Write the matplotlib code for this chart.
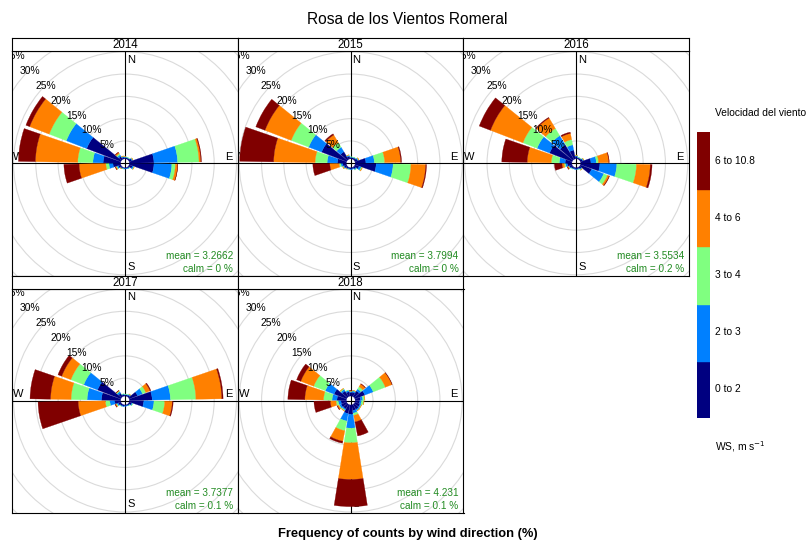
import matplotlib.pyplot as plt
from matplotlib.patches import Wedge, Circle
import numpy as np

plt.rcParams['font.family'] = ['Liberation Sans', 'DejaVu Sans']

# ---- data (percent of counts per direction and wind-speed bin) ----
years = ['2014', '2015', '2016', '2017', '2018']
directions = [0, 20, 40, 60, 80, 100, 120, 140, 160, 180, 200, 220, 240, 260, 280, 300, 320, 340]
ws_labels = ['0 to 2', '2 to 3', '3 to 4', '4 to 6', '6 to 10.8']
ws_colors = ['#000080', '#0080FF', '#80FF80', '#FF8000', '#800000']
mean_ws = [3.2662, 3.7994, 3.5534, 3.7377, 4.231]
calm_pct = [0, 0, 0.2, 0.1, 0.1]

freq_2014 = [[0.3, 0.1, 0.05, 0.05, 0], [0.3, 0.1, 0.05, 0, 0], [0.3, 0.1, 0.05, 0, 0],
             [0.6, 0.2, 0.1, 0.05, 0], [5.5, 5.3, 4.8, 0.4, 0.15], [5.5, 4.0, 0.8, 0.5, 0.05],
             [0.8, 0.3, 0.1, 0.05, 0], [0.3, 0.1, 0.05, 0, 0], [0.2, 0.1, 0, 0, 0],
             [0.2, 0.1, 0, 0, 0], [0.2, 0.1, 0.05, 0, 0], [0.3, 0.1, 0.05, 0.05, 0],
             [0.6, 0.3, 0.2, 0.2, 0.05], [1.7, 0.9, 0.7, 6.0, 3.4], [3.9, 2.3, 3.4, 9.5, 3.8],
             [8.2, 4.9, 4.1, 4.7, 0.9], [0.8, 0.4, 0.3, 0.3, 0.1], [0.4, 0.15, 0.1, 0.05, 0]]
freq_2015 = [[0.3, 0.1, 0.05, 0, 0], [0.3, 0.1, 0.05, 0, 0], [0.4, 0.1, 0.05, 0, 0],
             [0.6, 0.2, 0.1, 0.1, 0], [2.4, 1.9, 2.3, 3.6, 0.2], [4.7, 3.8, 4.0, 3.3, 0.2],
             [1.0, 0.5, 0.2, 0.1, 0], [0.5, 0.2, 0.1, 0, 0], [0.3, 0.1, 0, 0, 0],
             [0.3, 0.1, 0, 0, 0], [0.3, 0.1, 0.05, 0, 0], [0.4, 0.1, 0.05, 0.05, 0],
             [0.6, 0.2, 0.1, 0.1, 0], [0.8, 0.4, 0.4, 2.1, 3.8], [2.0, 2.3, 2.7, 9.3, 7.6],
             [6.0, 3.1, 4.2, 6.3, 2.2], [2.0, 1.2, 1.2, 2.0, 0.3], [0.6, 0.2, 0.1, 0.05, 0]]
freq_2016 = [[0.5, 0.2, 0.1, 0.05, 0], [0.3, 0.1, 0.05, 0, 0], [0.3, 0.1, 0.05, 0, 0],
             [0.5, 0.2, 0.1, 0.05, 0], [2.3, 1.2, 0.5, 2.3, 0.1], [4.3, 3.8, 4.4, 3.1, 0.4],
             [2.7, 2.9, 0.9, 0.4, 0.1], [0.5, 0.2, 0.1, 0.05, 0], [0.3, 0.1, 0.05, 0, 0],
             [0.3, 0.1, 0, 0, 0], [0.3, 0.1, 0, 0, 0], [0.4, 0.1, 0.05, 0, 0],
             [0.6, 0.2, 0.1, 0.2, 0.1], [1.0, 0.4, 0.3, 0.5, 1.7], [1.5, 1.3, 1.8, 5.4, 5.7],
             [5.4, 3.0, 3.4, 7.8, 2.7], [3.8, 2.4, 1.9, 2.7, 0.2], [2.0, 1.2, 1.2, 1.4, 0.3]]
freq_2017 = [[0.3, 0.1, 0.05, 0, 0], [0.3, 0.1, 0.05, 0, 0], [0.4, 0.2, 0.1, 0.05, 0],
             [2.0, 1.2, 0.8, 1.0, 0.2], [5.1, 4.1, 5.7, 5.8, 0.3], [3.2, 2.3, 2.4, 1.7, 0.2],
             [0.6, 0.2, 0.1, 0, 0], [0.3, 0.1, 0.05, 0, 0], [0.2, 0.1, 0, 0, 0],
             [0.2, 0.1, 0, 0, 0], [0.3, 0.1, 0, 0, 0], [0.4, 0.1, 0.05, 0, 0],
             [0.6, 0.3, 0.2, 0.2, 0.1], [1.3, 1.1, 1.0, 6.1, 9.0], [4.3, 3.2, 3.6, 4.6, 4.6],
             [5.6, 3.3, 3.1, 2.2, 0.9], [0.9, 0.4, 0.2, 0.1, 0.05], [0.4, 0.1, 0.05, 0, 0]]
freq_2018 = [[0.8, 0.2, 0.1, 0.05, 0.1], [0.9, 0.3, 0.1, 0.05, 0], [1.5, 0.5, 0.6, 0.7, 0.1],
             [2.4, 2.0, 2.9, 1.6, 0.05], [1.2, 0.5, 0.4, 0.1, 0], [1.0, 0.4, 0.5, 0.1, 0],
             [1.2, 0.3, 0.1, 0.05, 0], [1.3, 0.3, 0.1, 0.05, 0], [1.3, 0.6, 0.5, 1.5, 3.2],
             [2.1, 3.1, 3.3, 8.2, 6.1], [2.0, 1.7, 2.2, 2.4, 0.45], [1.2, 0.3, 0.2, 0.1, 0],
             [1.3, 0.4, 0.2, 0.3, 0.1], [1.2, 0.6, 0.5, 1.3, 3.65], [2.1, 1.1, 1.9, 4.2, 3.8],
             [3.0, 2.1, 2.8, 3.1, 1.0], [1.5, 0.4, 0.2, 0.1, 0], [1.0, 0.3, 0.1, 0, 0]]
freqs = [freq_2014, freq_2015, freq_2016, freq_2017, freq_2018]

# ---- layout (pixels) ----
W, H = 811, 543
cols = [(12, 238), (238, 463.5), (463.5, 689)]
rows = [(37.5, 50.5, 276), (276, 288.5, 512.5)]  # strip top, plot top, plot bottom
px_per_pct = 4.46
hole = 1.0
angle = 20
seg = 0.9

fig = plt.figure(figsize=(W / 100, H / 100), dpi=100)

for i, year in enumerate(years):
    x0, x1 = cols[i % 3]
    ys, yt, yb = rows[i // 3]
    ax = fig.add_axes([x0 / W, 1 - yb / H, (x1 - x0) / W, (yb - yt) / H])
    hw = (x1 - x0) / 2 / px_per_pct
    hh = (yb - yt) / 2 / px_per_pct
    ax.set_xlim(-hw, hw)
    ax.set_ylim(-hh, hh)
    ax.set_xticks([])
    ax.set_yticks([])
    for sp in ax.spines.values():
        sp.set_linewidth(0.8)

    for k in range(1, 8):
        ax.add_patch(Circle((0, 0), 5 * k, fill=False, ec='#DADADA', lw=0.8, zorder=1))
    ax.axhline(0, color='black', lw=0.8, zorder=2)
    ax.axvline(0, color='black', lw=0.8, zorder=2)

    ax.text(1.3, 23.2, 'N', ha='center', va='center', fontsize=8, zorder=2.5)
    ax.text(1.3, -23.3, 'S', ha='center', va='center', fontsize=8, zorder=2.5)
    ax.text(23.2, 1.5, 'E', ha='center', va='center', fontsize=8, zorder=2.5)
    ax.text(-24.0, 1.5, 'W', ha='center', va='center', fontsize=8, zorder=2.5)

    for d, bins in zip(directions, freqs[i]):
        cum = hole
        t1 = 90 - d - angle / 2 * seg
        t2 = 90 - d + angle / 2 * seg
        for v, c in zip(bins, ws_colors):
            if v > 0:
                ax.add_patch(Wedge((0, 0), cum + v, t1, t2, width=v, fc=c, ec=c, lw=0.2, zorder=3))
            cum += v

    for k in range(1, 8):
        ax.text(-(3.45 * k + 0.6), 3.33 * k + 0.7, f'{5 * k}%', ha='center', va='center',
                fontsize=7.4, zorder=4, clip_on=True)

    ax.text(1 - 5 / (x1 - x0), 20 / (yb - yt), f'mean = {mean_ws[i]:g}', transform=ax.transAxes,
            ha='right', va='center', fontsize=7.2, color='forestgreen', zorder=5)
    ax.text(1 - 5 / (x1 - x0), 6.5 / (yb - yt), f'calm = {calm_pct[i]:g} %', transform=ax.transAxes,
            ha='right', va='center', fontsize=7.2, color='forestgreen', zorder=5)

    sax = fig.add_axes([x0 / W, 1 - yt / H, (x1 - x0) / W, (yt - ys) / H])
    sax.set_xticks([])
    sax.set_yticks([])
    for sp in sax.spines.values():
        sp.set_linewidth(0.8)
    sax.text(0.5, 0.45, year, ha='center', va='center', fontsize=8.3, transform=sax.transAxes)

fig.text(407 / W, 1 - 19 / H, 'Rosa de los Vientos Romeral', ha='center', va='center', fontsize=11.2)
fig.text(408 / W, 1 - 534 / H, 'Frequency of counts by wind direction (%)', ha='center', va='center',
         fontsize=9.3, fontweight='bold')

# colour key
cb_top, cb_bot = 132, 418
cax = fig.add_axes([697 / W, 1 - cb_bot / H, 13 / W, (cb_bot - cb_top) / H])
for j, c in enumerate(ws_colors):
    cax.axhspan(j, j + 1, color=c)
cax.set_ylim(0, len(ws_colors))
cax.axis('off')
seg_h = (cb_bot - cb_top) / len(ws_colors)
for j, lab in enumerate(ws_labels):
    fig.text(715 / W, 1 - (cb_bot - (j + 0.5) * seg_h) / H, lab, ha='left', va='center', fontsize=7.4)
fig.text(715 / W, 1 - 113 / H, 'Velocidad del viento', ha='left', va='center', fontsize=7.4)
fig.text(715 / W, 1 - 447 / H, 'WS, m s$^{-1}$', ha='left', va='center', fontsize=7.4)

fig.savefig('out.png', dpi=100)
